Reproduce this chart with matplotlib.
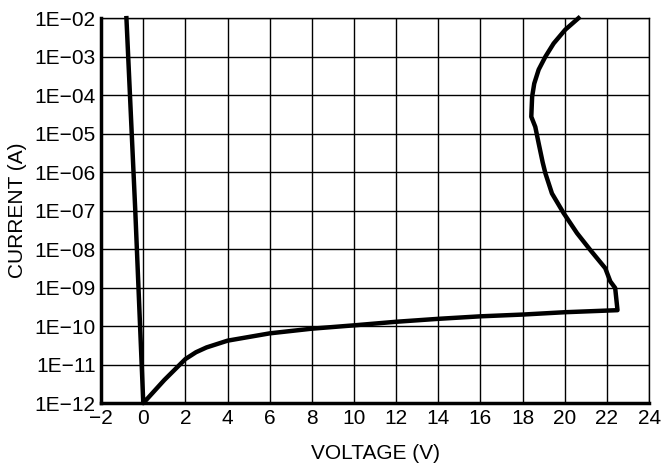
import matplotlib.pyplot as plt
from matplotlib.ticker import FixedLocator, FixedFormatter

plt.rcParams['font.family'] = ['Liberation Sans', 'DejaVu Sans']

# curve: reverse branch, forward leakage, breakdown snap-back
voltage = [-0.8, -0.38, 0.0,
           1.0, 2.0, 2.5, 3.0, 4.0, 6.0, 8.0, 10.0, 12.0, 14.0, 16.0, 18.0, 20.0, 22.5,
           22.39, 22.16, 21.92, 21.21, 20.58, 19.94, 19.39, 19.08, 18.95, 18.76, 18.6, 18.41,
           18.45, 18.55, 18.76, 19.08, 19.47, 20.02, 20.65]
current = [1e-2, 1e-7, 1e-12,
           4e-12, 1.4e-11, 2.1e-11, 2.8e-11, 4.2e-11, 6.5e-11, 8.6e-11, 1.05e-10, 1.3e-10,
           1.55e-10, 1.8e-10, 2.0e-10, 2.3e-10, 2.6e-10,
           9.8e-10, 1.45e-9, 3.2e-9, 9.5e-9, 2.6e-8, 8.7e-8, 2.8e-7, 9.3e-7, 1.8e-6, 5.6e-6,
           1.5e-5, 2.75e-5, 9.1e-5, 2.0e-4, 4.6e-4, 1e-3, 2.2e-3, 5e-3, 1e-2]

x_ticks = [-2, 0, 2, 4, 6, 8, 10, 12, 14, 16, 18, 20, 22, 24]
x_labels = ['\u22122', '0', '2', '4', '6', '8', '10', '12', '14', '16', '18', '20', '22', '24']
y_ticks = [1e-12, 1e-11, 1e-10, 1e-9, 1e-8, 1e-7, 1e-6, 1e-5, 1e-4, 1e-3, 1e-2]
y_labels = ['1E\u221212', '1E\u221211', '1E\u221210', '1E\u221209', '1E\u221208', '1E\u221207',
            '1E\u221206', '1E\u221205', '1E\u221204', '1E\u221203', '1E\u221202']

fig, ax = plt.subplots(figsize=(6.61, 4.65), dpi=100)
fig.subplots_adjust(left=0.153, right=0.982, top=0.961, bottom=0.133)

ax.plot(voltage, current, color='black', lw=3.2, solid_joinstyle='round', clip_on=False, zorder=3)

ax.set_yscale('log')
ax.set_xlim(-2, 24)
ax.set_ylim(1e-12, 1e-2)
ax.xaxis.set_major_locator(FixedLocator(x_ticks))
ax.xaxis.set_major_formatter(FixedFormatter(x_labels))
ax.yaxis.set_major_locator(FixedLocator(y_ticks))
ax.yaxis.set_major_formatter(FixedFormatter(y_labels))
ax.yaxis.set_minor_locator(FixedLocator([]))
ax.tick_params(length=0, labelsize=15, pad=4)

ax.grid(True, color='black', lw=1)
for side in ['top', 'right']:
    ax.spines[side].set_linewidth(1)
for side in ['left', 'bottom']:
    ax.spines[side].set_linewidth(2.5)

ax.set_xlabel('VOLTAGE (V)', fontsize=15, labelpad=12)
ax.set_ylabel('CURRENT (A)', fontsize=15, labelpad=5)

plt.savefig('out.png')
